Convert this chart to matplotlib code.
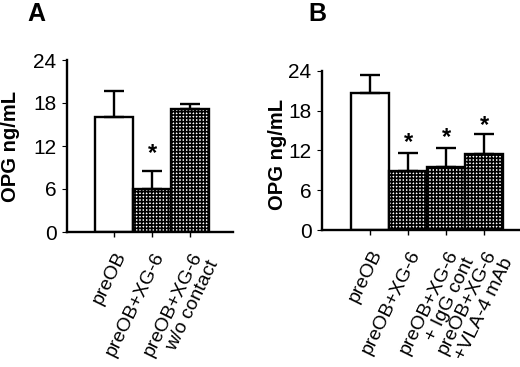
import matplotlib
matplotlib.use('Agg')
import matplotlib.pyplot as plt
from matplotlib.transforms import ScaledTranslation

plt.rcParams['font.family'] = ['Liberation Sans', 'DejaVu Sans']
plt.rcParams['hatch.linewidth'] = 1.2

# ---- data ----
a_labels = ['preOB', 'preOB+XG-6', 'preOB+XG-6\nw/o contact']
a_values = [16.0, 6.0, 17.2]
a_errors = [3.7, 2.5, 0.6]
a_hatched = [False, True, True]
a_stars = [None, 11.9, None]

b_labels = ['preOB', 'preOB+XG-6', 'preOB+XG-6\n+ IgG cont', 'preOB+XG-6\n+VLA-4 mAb']
b_values = [20.7, 8.9, 9.5, 11.4]
b_errors = [2.6, 2.7, 2.9, 3.0]
b_hatched = [False, True, True, True]
b_stars = [None, 14.2, 15.0, 16.8]

y_ticks = [0, 6, 12, 18, 24]
y_label = 'OPG ng/mL'

# ---- layout (pixel nudges of the tick labels, as in the original figure) ----
a_label_nudge = [(4, 4), (4, -3), (-6, -6)]
b_label_nudge = [(1, 5), (0, 0), (10, -2), (7, 0)]

W, H = 520, 367
fig = plt.figure(figsize=(W / 100, H / 100), dpi=100)


def px_axes(left, top, right, bottom):
    return fig.add_axes([left / W, 1 - bottom / H, (right - left) / W, (bottom - top) / H])


def draw_panel(ax, labels, values, errors, hatched, stars, nudges, xlim, ylab_x, ylab_y):
    x = list(range(len(values)))
    for xi, v, h in zip(x, values, hatched):
        ax.bar(xi, v, width=1.0, facecolor='white', edgecolor='black',
               linewidth=1.7, hatch='+++++' if h else None, zorder=2)
    ax.errorbar(x, values, yerr=[[0] * len(errors), errors], fmt='none',
                ecolor='black', elinewidth=1.7, capsize=7.5, capthick=1.7, zorder=3)
    star_off = ScaledTranslation(0, -7 / 100, fig.dpi_scale_trans)
    for xi, s in zip(x, stars):
        if s is not None:
            ax.text(xi, s, '*', ha='center', va='center', fontsize=17,
                    fontweight='bold', transform=ax.transData + star_off)
    ax.set_xlim(*xlim)
    ax.set_ylim(0, 24)
    ax.set_yticks(y_ticks)
    ax.set_yticklabels([str(t) for t in y_ticks], fontsize=15)
    ax.set_xticks(x)
    ax.set_xticklabels(labels, rotation=64, ha='right', va='top',
                       rotation_mode='anchor', multialignment='right', fontsize=14,
                       linespacing=1.12)
    for lab, (dx, dy) in zip(ax.get_xticklabels(), nudges):
        lab.set_transform(lab.get_transform() +
                          ScaledTranslation(dx / 100, -dy / 100, fig.dpi_scale_trans))
    ax.tick_params(axis='x', length=3.5, width=1, pad=8.7, direction='out')
    ax.tick_params(axis='y', length=3.5, width=0.8, pad=4, direction='out')
    for sp in ['top', 'right']:
        ax.spines[sp].set_visible(False)
    for sp in ['left', 'bottom']:
        ax.spines[sp].set_linewidth(1.7)
    ax.set_ylabel(y_label, fontsize=14.5, fontweight='bold')
    ax.yaxis.set_label_coords(ylab_x, ylab_y)


axA = px_axes(67, 60, 233, 232)
draw_panel(axA, a_labels, a_values, a_errors, a_hatched, a_stars, a_label_nudge,
           (-1.237, 3.13), -0.283, 0.497)

axB = px_axes(322, 70.7, 519, 230)
draw_panel(axB, b_labels, b_values, b_errors, b_hatched, b_stars, b_label_nudge,
           (-1.263, 3.92), -0.177, 0.477)

fig.text(27 / W, 1 - 2 / H, 'A', fontsize=18, fontweight='bold', ha='left', va='top')
fig.text(308.5 / W, 1 - 2 / H, 'B', fontsize=18, fontweight='bold', ha='left', va='top')

fig.savefig('out.png', dpi=100)
